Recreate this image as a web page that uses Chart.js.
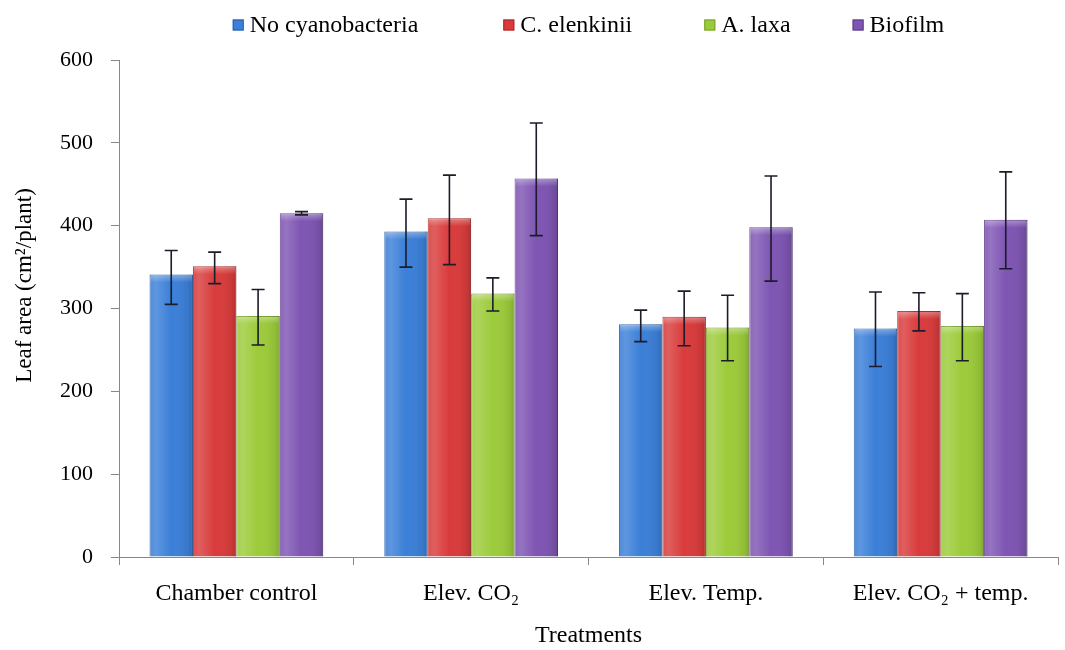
<!DOCTYPE html>
<html>
<head>
<meta charset="utf-8">
<script src="https://cdn.jsdelivr.net/npm/chart.js@4.4.1/dist/chart.umd.min.js"></script>
<style>
html,body{margin:0;padding:0;background:#fff;}
#wrap{width:1065px;height:650px;position:relative;}
</style>
</head>
<body>
<div id="wrap"><canvas id="c" width="1065" height="650"></canvas></div>
<script>
const categories = ["Chamber control", "Elev. CO\u2082", "Elev. Temp.", "Elev. CO\u2082 + temp."];
const seriesNames = ["No cyanobacteria", "C. elenkinii", "A. laxa", "Biofilm"];
const noCyano = [341, 393, 281, 276];
const cElenkinii = [351, 409, 290, 297];
const aLaxa = [291, 318, 277, 279];
const biofilm = [415, 457, 398, 407];
const noCyanoLow = [305, 350, 260, 230];
const noCyanoHigh = [370, 432, 298, 320];
const cElenkiniiLow = [330, 353, 255, 273];
const cElenkiniiHigh = [368, 461, 321, 319];
const aLaxaLow = [256, 297, 237, 237];
const aLaxaHigh = [323, 337, 316, 318];
const biofilmLow = [413, 388, 333, 348];
const biofilmHigh = [417, 524, 460, 465];
const yTicks = [0, 100, 200, 300, 400, 500, 600];

const colors = ["#3b7fd8", "#d93b3b", "#9ccb3a", "#7e55b3"];
const borders = ["#2a5fa8", "#a82a2a", "#78a02a", "#5e3d8a"];
const lows = [noCyanoLow, cElenkiniiLow, aLaxaLow, biofilmLow];
const highs = [noCyanoHigh, cElenkiniiHigh, aLaxaHigh, biofilmHigh];
const values = [noCyano, cElenkinii, aLaxa, biofilm];

const serif = "'Liberation Serif', 'DejaVu Serif', serif";

const shadePlugin = {
  id: 'shade',
  afterDatasetsDraw(chart) {
    const ctx = chart.ctx;
    chart.data.datasets.forEach((ds, di) => {
      const meta = chart.getDatasetMeta(di);
      meta.data.forEach((bar) => {
        const l = bar.x - bar.width / 2, r = bar.x + bar.width / 2;
        const t = bar.y, b = bar.base;
        const g = ctx.createLinearGradient(l, 0, r, 0);
        g.addColorStop(0, 'rgba(255,255,255,0.10)');
        g.addColorStop(0.15, 'rgba(255,255,255,0.18)');
        g.addColorStop(0.5, 'rgba(255,255,255,0.0)');
        g.addColorStop(0.9, 'rgba(0,0,0,0.08)');
        g.addColorStop(1, 'rgba(0,0,0,0.18)');
        ctx.save();
        ctx.fillStyle = g;
        ctx.fillRect(l, t, r - l, b - t);
        const g2 = ctx.createLinearGradient(0, t, 0, t + 8);
        g2.addColorStop(0, 'rgba(255,255,255,0.35)');
        g2.addColorStop(1, 'rgba(255,255,255,0)');
        ctx.fillStyle = g2;
        ctx.fillRect(l + 1, t + 1, r - l - 2, 8);
        ctx.restore();
      });
    });
  }
};

const errPlugin = {
  id: 'errbars',
  afterDatasetsDraw(chart) {
    const ctx = chart.ctx;
    const ys = chart.scales.y;
    ctx.save();
    ctx.strokeStyle = '#1c1c2a';
    ctx.lineWidth = 1.6;
    chart.data.datasets.forEach((ds, di) => {
      const meta = chart.getDatasetMeta(di);
      meta.data.forEach((bar, i) => {
        const x = bar.x;
        const y1 = ys.getPixelForValue(lows[di][i]);
        const y2 = ys.getPixelForValue(highs[di][i]);
        const cap = 6.5;
        ctx.beginPath();
        ctx.moveTo(x, y1); ctx.lineTo(x, y2);
        ctx.moveTo(x - cap, y1); ctx.lineTo(x + cap, y1);
        ctx.moveTo(x - cap, y2); ctx.lineTo(x + cap, y2);
        ctx.stroke();
      });
    });
    ctx.restore();
  }
};

const legendGaps = [85, 72, 62];
const legendPlugin = {
  id: 'customLegend',
  afterDraw(chart) {
    const ctx = chart.ctx;
    const ca = chart.chartArea;
    ctx.save();
    ctx.font = "24px " + serif;
    ctx.textBaseline = 'middle';
    const box = 11, gapBox = 6;
    const widths = seriesNames.map(n => ctx.measureText(n).width);
    const total = widths.reduce((a, w) => a + box + gapBox + w, 0) + legendGaps.reduce((a, g) => a + g, 0);
    let x = (ca.left + ca.right) / 2 - total / 2;
    const y = 25;
    seriesNames.forEach((n, i) => {
      ctx.fillStyle = colors[i];
      ctx.fillRect(x, y - box / 2, box, box);
      ctx.strokeStyle = borders[i];
      ctx.lineWidth = 1;
      ctx.strokeRect(x + 0.5, y - box / 2 + 0.5, box - 1, box - 1);
      ctx.fillStyle = '#000';
      ctx.fillText(n, x + box + gapBox, y + 1);
      x += box + gapBox + widths[i] + (legendGaps[i] || 0);
    });
    ctx.restore();
  }
};

new Chart(document.getElementById('c'), {
  type: 'bar',
  data: {
    labels: categories,
    datasets: seriesNames.map((n, i) => ({
      label: n,
      data: values[i],
      backgroundColor: colors[i],
      borderColor: borders[i],
      borderWidth: 1,
      categoryPercentage: 0.74,
      barPercentage: 1.0
    }))
  },
  options: {
    responsive: false,
    animation: false,
    devicePixelRatio: 1,
    layout: { padding: { left: 0, right: 7, top: 60, bottom: 0 } },
    plugins: {
      legend: { display: false },
      tooltip: { enabled: false }
    },
    scales: {
      x: {
        grid: { display: true, drawOnChartArea: false, offset: true, color: '#888', tickLength: 8 },
        border: { color: '#888', width: 1 },
        ticks: { font: { family: serif, size: 24 }, color: '#000', padding: 14 },
        title: { display: true, text: 'Treatments', font: { family: serif, size: 24 }, color: '#000', padding: { top: 13, bottom: 0 } },
        afterFit(scale) { scale.height = 93; }
      },
      y: {
        min: 0, max: 600,
        afterBuildTicks(scale) { scale.ticks = yTicks.map(v => ({ value: v })); },
        grid: { display: true, drawOnChartArea: false, color: '#888', tickLength: 8 },
        border: { color: '#888', width: 1 },
        ticks: { font: { family: serif, size: 22 }, color: '#000', padding: 18 },
        title: { display: true, text: '\u00A0\u00A0\u00A0\u00A0\u00A0\u00A0\u00A0\u00A0Leaf area (cm\u00B2/plant)', font: { family: serif, size: 23 }, color: '#000', padding: { top: 11, bottom: 0 } },
        afterFit(scale) { scale.width = 119; }
      }
    }
  },
  plugins: [shadePlugin, errPlugin, legendPlugin]
});
</script>
</body>
</html>
